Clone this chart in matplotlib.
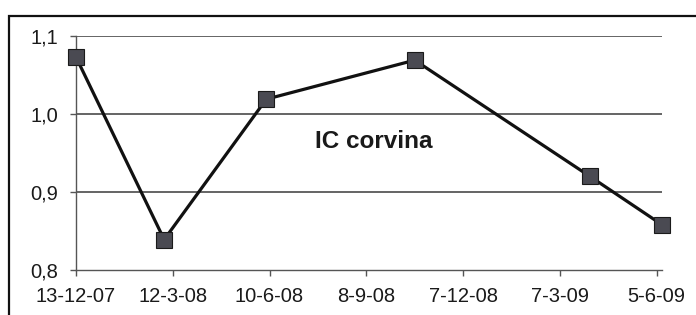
import datetime as dt
import matplotlib
matplotlib.use('Agg')
import matplotlib.pyplot as plt
import matplotlib.dates as mdates
from matplotlib.patches import Rectangle
from matplotlib.ticker import FixedLocator

plt.rcParams['font.family'] = ['Liberation Sans', 'DejaVu Sans']

# data
dates = ['13-12-07', '4-3-08', '7-6-08', '23-10-08', '4-4-09', '10-6-09']
ic_values = [1.073, 0.839, 1.019, 1.069, 0.920, 0.858]

tick_dates = ['13-12-07', '12-3-08', '10-6-08', '8-9-08', '7-12-08', '7-3-09', '5-6-09']
y_ticks = [0.8, 0.9, 1.0, 1.1]
y_labels = ['0,8', '0,9', '1,0', '1,1']


def to_num(s):
    return mdates.date2num(dt.datetime.strptime(s, '%d-%m-%y'))


x = [to_num(d) for d in dates]
xt = [to_num(d) for d in tick_dates]

fig = plt.figure(figsize=(6.96, 3.15), dpi=100)
fig.patch.set_facecolor('white')

# outer frame (only left and top visible in the scan)
fig.patches.append(Rectangle((9 / 696, -0.2), 1.2, 1 - 16 / 315 + 0.2,
                             transform=fig.transFigure, fill=False,
                             edgecolor='#111111', linewidth=1.6))

ax = fig.add_axes([76 / 696, 1 - 270 / 315, (662 - 76) / 696, (270 - 36) / 315])
ax.set_facecolor('white')

ax.plot(x, ic_values, color='#111111', linewidth=2.3, marker='s',
        markersize=11, markerfacecolor='#4a4a52', markeredgecolor='#1a1a1a',
        markeredgewidth=0.8, clip_on=False, zorder=3)

ax.set_xlim(x[0], x[-1])
ax.set_ylim(0.8, 1.1)

ax.xaxis.set_major_locator(FixedLocator(xt))
ax.set_xticklabels(tick_dates)
ax.set_yticks(y_ticks)
ax.set_yticklabels(y_labels)

for v in y_ticks[1:]:
    ax.axhline(v, color='#3a3a3a', linewidth=1.1, zorder=1)

for s in ['top', 'right']:
    ax.spines[s].set_visible(False)
ax.spines['left'].set_color('#555555')
ax.spines['bottom'].set_color('#555555')
ax.spines['left'].set_linewidth(1.0)
ax.spines['bottom'].set_linewidth(1.0)

ax.tick_params(axis='x', direction='out', length=4, width=1, color='#555555',
               labelsize=14.5, pad=8, labelcolor='#1a1a1a')
ax.tick_params(axis='y', direction='out', length=4, width=1, color='#555555',
               labelsize=14.5, pad=9, labelcolor='#1a1a1a')

ax.text(to_num('15-9-08'), 0.965, 'IC corvina', fontsize=17.5, fontweight='bold',
        color='#1a1a1a', ha='center', va='center')

fig.savefig('out.png', dpi=100, facecolor='white')
